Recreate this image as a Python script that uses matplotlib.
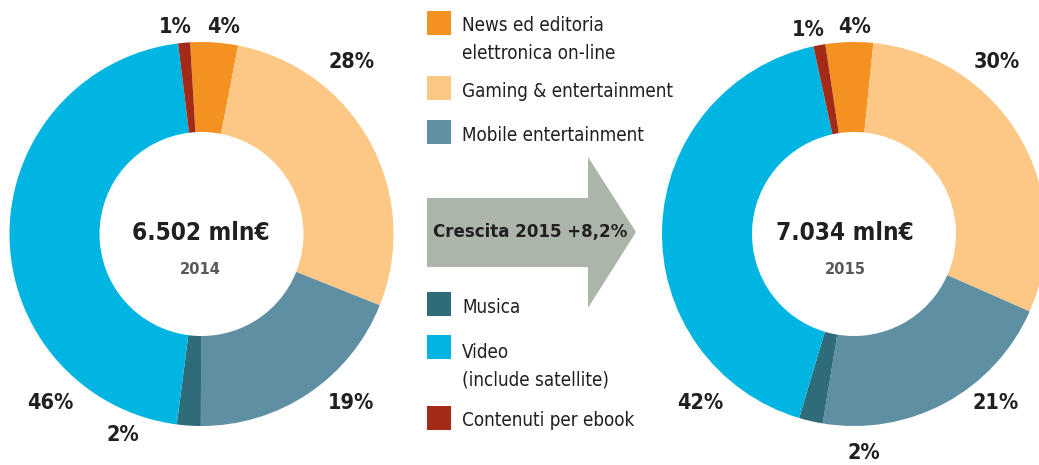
import matplotlib
matplotlib.use("Agg")
import matplotlib.pyplot as plt
from matplotlib.patches import Rectangle, Polygon

# shares of the digital content market, in percent
categories = ["News ed editoria\nelettronica on-line", "Gaming & entertainment",
              "Mobile entertainment", "Musica", "Video\n(include satellite)",
              "Contenuti per ebook"]
share_2014 = [4, 28, 19, 2, 46, 1]
share_2015 = [4, 30, 21, 2, 42, 1]
totals = ["6.502 mln€", "7.034 mln€"]
years = ["2014", "2015"]
growth = "Crescita 2015 +8,2%"

colors = ["#f39221", "#fdc886", "#5f8fa3", "#2f6c79", "#00b5e2", "#a32a16"]

W, H = 1039, 465
plt.rcParams["font.family"] = ["DejaVu Sans"]
plt.rcParams["font.stretch"] = "condensed"


def Y(y):
    return H - y


fig = plt.figure(figsize=(W / 100, H / 100), dpi=100)
ax = fig.add_axes([0, 0, 1, 1])

R_OUT, R_IN = 192, 102
donuts = [
    dict(vals=share_2014, cx=201.5, cy=234, start=93.4, total=totals[0], year=years[0],
         text_dx=-1,
         lab=[(22.5, -207), (150.5, -172), (149.5, 169), (-78.5, 201), (-151.5, 169), (-26.5, -207)]),
    dict(vals=share_2015, cx=854, cy=234, start=98.6, total=totals[1], year=years[1],
         text_dx=-9,
         lab=[(1, -207), (143, -172), (142, 169), (10, 219), (-154, 169), (-46, -204)]),
]

for d in donuts:
    ax.pie(d["vals"], colors=colors, center=(d["cx"], Y(d["cy"])), radius=R_OUT,
           startangle=d["start"], counterclock=False,
           wedgeprops=dict(width=R_OUT - R_IN, linewidth=0))
    for v, (dx, dy) in zip(d["vals"], d["lab"]):
        ax.text(d["cx"] + dx, Y(d["cy"] + dy), f"{v}%", ha="center", va="center",
                fontsize=15.5, fontweight="bold", color="#231f20")
    ax.text(d["cx"] + d["text_dx"], Y(d["cy"] - 1), d["total"], ha="center", va="center",
            fontsize=17.5, fontweight="bold", color="#231f20")
    ax.text(d["cx"] + d["text_dx"], Y(d["cy"] + 36), d["year"], ha="center", va="center",
            fontsize=11.8, fontweight="bold", color="#58585a")

# legend, split around the arrow (square tops and last-line baselines)
leg_top = [11, 76, 120, 292, 335, 406]
leg_base = [59, 97, 141, 313, 386, 426]
for lab, col, top, base in zip(categories, colors, leg_top, leg_base):
    ax.add_patch(Rectangle((427, Y(top + 24)), 24, 24, facecolor=col, edgecolor="none"))
    ax.text(462, Y(base), lab, ha="left", va="baseline", fontsize=13.5,
            color="#231f20", linespacing=1.62)

# growth arrow
arrow = [(427, 198), (588, 198), (588, 157), (636, 232), (588, 308), (588, 267), (427, 267)]
ax.add_patch(Polygon([(x, Y(y)) for x, y in arrow], closed=True,
                     facecolor="#abb5aa", edgecolor="none"))
ax.text(530, Y(232), growth, ha="center", va="center", fontsize=13.3,
        fontweight="bold", color="#231f20")

ax.set_xlim(0, W)
ax.set_ylim(0, H)
ax.set_aspect("equal")
ax.axis("off")

fig.savefig("out.png", dpi=100)
